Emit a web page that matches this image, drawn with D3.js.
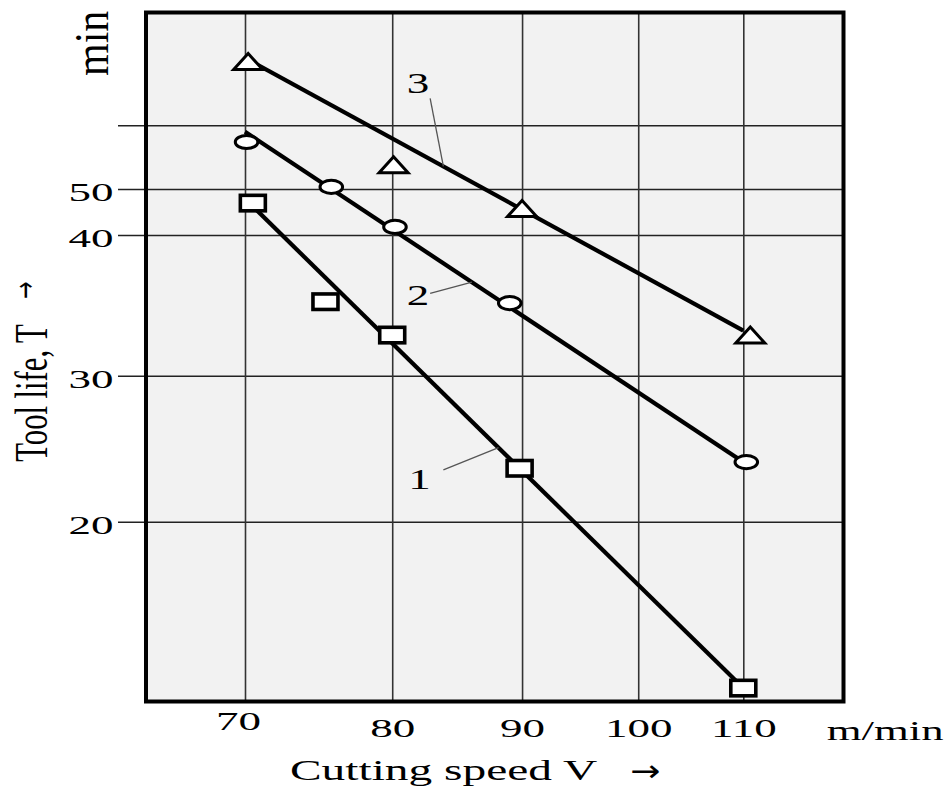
<!DOCTYPE html>
<meta charset="utf-8">
<style>

body {
  margin: 0;
  background: #fff;
}

text {
  font-family: "Liberation Serif", "Times New Roman", serif;
  fill: #000;
}

text.arrow {
  font-family: "DejaVu Sans", sans-serif;
}

</style>
<body>
<script src="https://cdn.jsdelivr.net/npm/d3@7"></script>
<script>

// axis ticks
var speedTicks = [70, 80, 90, 100, 110],
    speedTickLabels = ["70", "80", "90", "100", "110"],
    lifeTicks = [20, 30, 40, 50, 60],
    lifeTickLabels = ["20", "30", "40", "50", ""];

// measured points: cutting speed V (m/min) and tool life T (min)
var speed1 = [70.5, 75.3, 80, 89.8, 110],
    life1  = [46.7, 34.9, 32.6, 23.2, 12.6],
    speed2 = [70.1, 75.7, 80.2, 89.0, 110.3],
    life2  = [57.2, 50.3, 41.6, 34.8, 23.6],
    speed3 = [70.2, 80.1, 90, 110.7],
    life3  = [72.0, 53.6, 45.5, 32.6];

// straight lines through each series (start, end)
var fit1Speed = [70.4, 110], fit1Life = [46.3, 12.6],
    fit2Speed = [70, 110],   fit2Life = [58.9, 23.6],
    fit3Speed = [70.2, 110], fit3Life = [72.4, 32.9];

// curve numbers and their leader lines
var curveLabels = ["1", "2", "3"],
    labelSpeed = [82.0, 81.9, 81.9],
    labelLife = [22.5, 35.4, 67.8],
    leaderSpeed = [83.8, 82.8, 82.8],
    leaderLife = [23.1, 35.5, 64.8],
    leaderEndSpeed = [88.1, 86.0, 83.8];

var width = 952,
    height = 787,
    frame = {left: 146, top: 12.5, right: 843.5, bottom: 701.5};

var x = d3.scaleLog()
    .domain([70, 110])
    .range([245, 743.3]);

// the printed grid is not evenly logarithmic, so map it piece by piece
var y = d3.scaleLog()
    .domain(lifeTicks)
    .range([521.7, 375.7, 235, 189, 125.3]);

var svg = d3.select("body").append("svg")
    .attr("width", width)
    .attr("height", height);

svg.append("rect")
    .attr("x", frame.left)
    .attr("y", frame.top)
    .attr("width", frame.right - frame.left)
    .attr("height", frame.bottom - frame.top)
    .attr("fill", "#f2f2f2");

// y grid + labels
var yAxis = d3.axisLeft(y)
    .tickValues(lifeTicks)
    .tickFormat(function(d, i) { return lifeTickLabels[i]; })
    .tickSize(-(frame.right - 118))
    .tickPadding(0);

var gy = svg.append("g")
    .attr("class", "y axis")
    .attr("transform", "translate(118,0)")
    .call(yAxis)
    .attr("font-size", 25)
    .attr("font-family", null);
gy.select(".domain").remove();
gy.selectAll(".tick line")
    .attr("stroke", "#222")
    .attr("stroke-width", 1.4);
gy.selectAll(".tick text")
    .attr("x", null)
    .attr("dy", null)
    .attr("transform", "translate(-4.5,11.5) scale(1.8,1)");

// x grid + labels
var xAxis = d3.axisBottom(x)
    .tickValues(speedTicks)
    .tickFormat(function(d, i) { return speedTickLabels[i]; })
    .tickSize(frame.bottom - frame.top);

var gx = svg.append("g")
    .attr("class", "x axis")
    .attr("transform", "translate(0," + frame.top + ")")
    .call(xAxis)
    .attr("font-size", 25)
    .attr("font-family", null);
gx.select(".domain").remove();
gx.selectAll(".tick line")
    .attr("stroke", "#333")
    .attr("stroke-width", 1.6);
gx.selectAll(".tick text")
    .attr("y", null)
    .attr("dy", null)
    .attr("transform", function(d, i) {
      // the "70" sits a little higher and to the left in the original
      return i === 0 ? "translate(-7," + (730 - frame.top) + ") scale(1.8,1)"
                     : "translate(0," + (737 - frame.top) + ") scale(1.8,1)";
    });

// fitted lines
var fits = [
  {speed: fit1Speed, life: fit1Life},
  {speed: fit2Speed, life: fit2Life},
  {speed: fit3Speed, life: fit3Life}
];

var line = d3.line()
    .x(function(d) { return x(d[0]); })
    .y(function(d) { return y(d[1]); });

svg.selectAll(".fit")
    .data(fits)
  .enter().append("path")
    .attr("class", "fit")
    .attr("d", function(d) { return line(d3.zip(d.speed, d.life)); })
    .attr("fill", "none")
    .attr("stroke", "#000")
    .attr("stroke-width", 4.2);

// leaders from the curve numbers to the lines
function onFit(f, v) {
  var x0 = x(f.speed[0]), x1 = x(f.speed[1]),
      y0 = y(f.life[0]), y1 = y(f.life[1]),
      px = x(v);
  return [px, y0 + (y1 - y0) * (px - x0) / (x1 - x0)];
}

curveLabels.forEach(function(label, i) {
  var end = onFit(fits[i], leaderEndSpeed[i]);
  svg.append("line")
      .attr("x1", x(leaderSpeed[i]))
      .attr("y1", y(leaderLife[i]))
      .attr("x2", end[0])
      .attr("y2", end[1])
      .attr("stroke", "#555")
      .attr("stroke-width", 1.3);
  svg.append("text")
      .attr("transform", "translate(" + x(labelSpeed[i]) + "," + y(labelLife[i]) + ") scale(1.5,1)")
      .attr("text-anchor", "middle")
      .attr("dy", "0.34em")
      .attr("font-size", 30)
      .text(label);
});

// markers
var squares = d3.zip(speed1, life1),
    circles = d3.zip(speed2, life2),
    triangles = d3.zip(speed3, life3);

svg.selectAll(".square")
    .data(squares)
  .enter().append("rect")
    .attr("class", "square")
    .attr("x", function(d) { return x(d[0]) - 12.5; })
    .attr("y", function(d) { return y(d[1]) - 7.75; })
    .attr("width", 25)
    .attr("height", 15.5)
    .attr("fill", "#fff")
    .attr("stroke", "#000")
    .attr("stroke-width", 3.6);

svg.selectAll(".circle")
    .data(circles)
  .enter().append("ellipse")
    .attr("class", "circle")
    .attr("cx", function(d) { return x(d[0]); })
    .attr("cy", function(d) { return y(d[1]); })
    .attr("rx", 11.3)
    .attr("ry", 6.6)
    .attr("fill", "#fff")
    .attr("stroke", "#000")
    .attr("stroke-width", 3);

svg.selectAll(".triangle")
    .data(triangles)
  .enter().append("path")
    .attr("class", "triangle")
    .attr("transform", function(d) { return "translate(" + x(d[0]) + "," + y(d[1]) + ")"; })
    .attr("d", "M0,-8L14.5,8L-14.5,8Z")
    .attr("fill", "#fff")
    .attr("stroke", "#000")
    .attr("stroke-width", 3)
    .attr("stroke-linejoin", "miter");

// frame
svg.append("rect")
    .attr("x", frame.left)
    .attr("y", frame.top)
    .attr("width", frame.right - frame.left)
    .attr("height", frame.bottom - frame.top)
    .attr("fill", "none")
    .attr("stroke", "#000")
    .attr("stroke-width", 4);

// axis titles
svg.append("text")
    .attr("transform", "translate(826.7,740) scale(1.6,1)")
    .attr("font-size", 28)
    .text("m/min");

svg.append("text")
    .attr("transform", "translate(290,780) scale(1.58,1)")
    .attr("font-size", 30)
    .text("Cutting speed V");

svg.append("text")
    .attr("class", "arrow")
    .attr("transform", "translate(630,781) scale(1.2,1)")
    .attr("font-size", 30)
    .text("\u2192");

svg.append("text")
    .attr("transform", "translate(46.7,461.7) rotate(-90) scale(1.02,1.55)")
    .attr("font-size", 30)
    .text("Tool life, T");

svg.append("text")
    .attr("class", "arrow")
    .attr("transform", "translate(35,299) rotate(-90) scale(1,1.4)")
    .attr("font-size", 21)
    .text("\u2192");

svg.append("text")
    .attr("transform", "translate(108.3,76) rotate(-90) scale(1.4,1.65)")
    .attr("font-size", 30)
    .text("min");

</script>
</body>
</html>
